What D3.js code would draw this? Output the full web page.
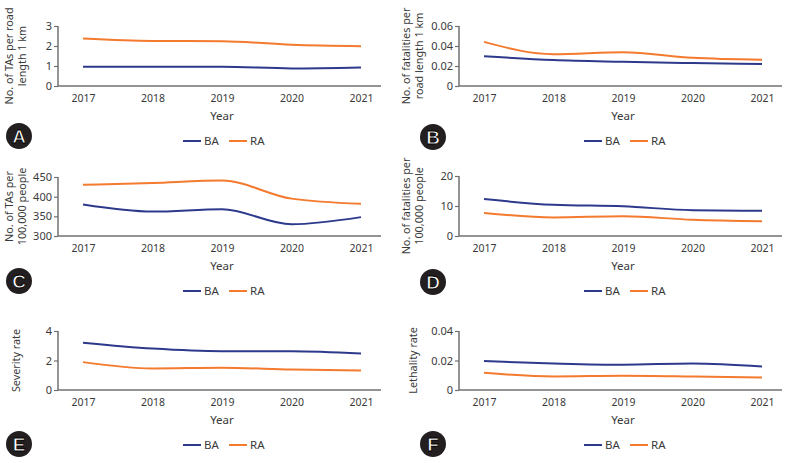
<!DOCTYPE html>
<html>
<head>
<meta charset="utf-8">
<script src="https://cdn.jsdelivr.net/npm/d3@7"></script>
<style>
  body { margin: 0; background: #fff; }
  text { font-family: "Noto Sans", sans-serif; }
</style>
</head>
<body>
<svg width="787" height="463"></svg>
<script>
// ---- data ----
var years = ["2017", "2018", "2019", "2020", "2021"];

var taRoadBA = [0.96, 0.96, 0.96, 0.88, 0.93];
var taRoadRA = [2.37, 2.25, 2.24, 2.06, 1.99];

var fatRoadBA = [0.0298, 0.0259, 0.0242, 0.0229, 0.0219];
var fatRoadRA = [0.0441, 0.0318, 0.0338, 0.0282, 0.0262];

var taPopBA = [380, 362, 368, 330, 348];
var taPopRA = [430, 435, 441, 395, 382];

var fatPopBA = [12.3, 10.4, 9.9, 8.6, 8.4];
var fatPopRA = [7.7, 6.2, 6.6, 5.4, 4.9];

var sevBA = [3.21, 2.81, 2.63, 2.63, 2.47];
var sevRA = [1.89, 1.46, 1.51, 1.39, 1.33];

var lethBA = [0.0196, 0.0180, 0.0171, 0.0180, 0.0160];
var lethRA = [0.0117, 0.0092, 0.0097, 0.0092, 0.0085];

var ticksA = [0, 1, 2, 3];
var ticksB = [0, 0.02, 0.04, 0.06];
var ticksC = [300, 350, 400, 450];
var ticksD = [0, 10, 20];
var ticksE = [0, 2, 4];
var ticksF = [0, 0.02, 0.04];

var seriesNames = ["BA", "RA"];

// ---- display settings ----
var colors = {BA: "#2d3a8c", RA: "#f37a2f"};
var textColor = "#3a3a3a";
var axisColor = "#707070";

// each panel: x0 = y-axis position, top/bottom of plot, label lines, badge position
var panels = [
  {letter: "A", x0: 58,  top: 26,  bottom: 86,  ba: taRoadBA,  ra: taRoadRA,  ticks: ticksA,
   label: ["No. of TAs per road", "length 1 km"], labX: 9.5, badge: [19, 136]},
  {letter: "B", x0: 459, top: 26,  bottom: 86,  ba: fatRoadBA, ra: fatRoadRA, ticks: ticksB,
   label: ["No. of fatalities per", "road length 1 km"], labX: 406, badge: [433, 137]},
  {letter: "C", x0: 58,  top: 177, bottom: 236, ba: taPopBA,   ra: taPopRA,   ticks: ticksC,
   label: ["No. of TAs per", "100,000 people"], labX: 9.5, badge: [19, 281]},
  {letter: "D", x0: 459, top: 176, bottom: 236, ba: fatPopBA,  ra: fatPopRA,  ticks: ticksD,
   label: ["No. of fatalities per", "100,000 people"], labX: 406, badge: [433, 282]},
  {letter: "E", x0: 58,  top: 331, bottom: 390, ba: sevBA,     ra: sevRA,     ticks: ticksE,
   label: ["Severity rate"], labX: 16, badge: [19, 444]},
  {letter: "F", x0: 459, top: 331, bottom: 390, ba: lethBA,    ra: lethRA,    ticks: ticksF,
   label: ["Lethality rate"], labX: 413, badge: [433, 444]}
];

var svg = d3.select("svg");

function fmt(v) {
  return v === 0 ? "0" : String(v);
}

function draw_panel(p) {
  var g = svg.append("g");

  var x = d3.scalePoint().domain(years).range([p.x0 + 25, p.x0 + 303]);
  var y = d3.scaleLinear()
      .domain([p.ticks[0], p.ticks[p.ticks.length - 1]])
      .range([p.bottom, p.top]);

  // y axis
  var ya = g.append("g")
      .attr("transform", "translate(" + p.x0 + ",0)")
      .call(d3.axisLeft(y).tickValues(p.ticks).tickFormat(fmt).tickSize(4).tickPadding(2));
  ya.select(".domain").attr("stroke", axisColor).attr("stroke-width", 1.5)
    .attr("d", "M0," + p.bottom + "V" + p.top);
  ya.selectAll(".tick line").attr("stroke", axisColor).attr("stroke-width", 1.2);
  ya.selectAll(".tick text").attr("fill", textColor).style("font-size", "11px")
    .style("font-family", "'Noto Sans', sans-serif");

  // x axis
  var xa = g.append("g")
      .attr("transform", "translate(0," + p.bottom + ")")
      .call(d3.axisBottom(x).tickSize(0).tickPadding(9));
  xa.select(".domain").attr("stroke", axisColor).attr("stroke-width", 1.5)
    .attr("d", "M" + p.x0 + ",0H" + (p.x0 + 323));
  xa.selectAll(".tick text").attr("fill", textColor).style("font-size", "10.5px")
    .style("font-family", "'Noto Sans', sans-serif");

  g.append("text")
    .attr("x", p.x0 + 164).attr("y", p.bottom + 34)
    .attr("text-anchor", "middle")
    .attr("fill", textColor).style("font-size", "11.5px")
    .text("Year");

  // y label
  var cy = (p.top + p.bottom) / 2;
  var lab = g.append("text")
    .attr("transform", "translate(" + p.labX + "," + cy + ") rotate(-90)")
    .attr("text-anchor", "middle")
    .attr("fill", textColor).style("font-size", "10.8px");
  p.label.forEach(function(t, i) {
    lab.append("tspan").attr("x", 0).attr("dy", i === 0 ? "0.35em" : "1.2em").text(t);
  });

  // lines
  var line = d3.line()
      .x(function(d, i) { return x(years[i]); })
      .y(function(d) { return y(d); })
      .curve(d3.curveMonotoneX);

  [["BA", p.ba], ["RA", p.ra]].forEach(function(s) {
    g.append("path")
      .datum(s[1])
      .attr("d", line)
      .attr("fill", "none")
      .attr("stroke", colors[s[0]])
      .attr("stroke-width", 2);
  });

  // legend
  var ly = p.bottom + 55;
  var leg = g.selectAll(".leg").data(seriesNames).enter().append("g")
    .attr("transform", function(d, i) { return "translate(" + (p.x0 + 125 + i * 46) + "," + ly + ")"; });
  leg.append("line").attr("x1", 0).attr("x2", 18).attr("y1", 0).attr("y2", 0)
    .attr("stroke", function(d) { return colors[d]; }).attr("stroke-width", 2);
  leg.append("text").attr("x", 21).attr("y", 0).attr("dy", "0.35em")
    .attr("fill", textColor).style("font-size", "11.5px")
    .text(function(d) { return d; });

  // badge
  g.append("circle").attr("cx", p.badge[0]).attr("cy", p.badge[1]).attr("r", 13)
    .attr("fill", "#231f20");
  g.append("text").attr("x", p.badge[0]).attr("y", p.badge[1]).attr("dy", "0.36em")
    .attr("text-anchor", "middle")
    .attr("fill", "#fff").attr("stroke", "#000").attr("stroke-width", 0.8)
    .style("font-size", "19px").style("font-weight", "bold")
    .style("font-family", "'Liberation Sans', Arial, sans-serif")
    .text(p.letter);
}

panels.forEach(draw_panel);
</script>
</body>
</html>
